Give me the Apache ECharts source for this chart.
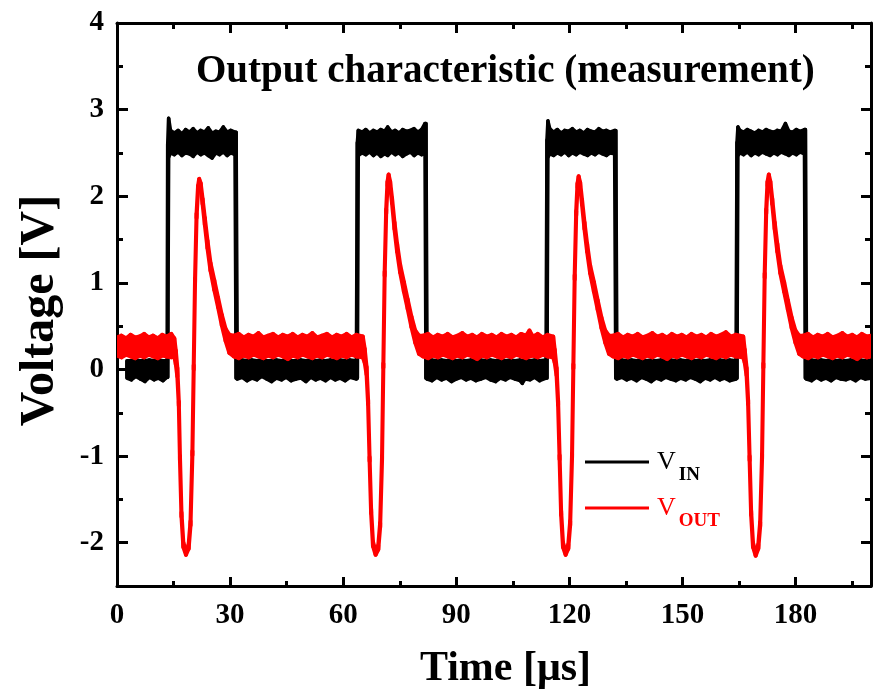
<!DOCTYPE html>
<html><head><meta charset="utf-8">
<script src="https://cdn.jsdelivr.net/npm/echarts@6/dist/echarts.min.js"></script>
<style>html,body{margin:0;padding:0;background:#fff}#c{width:873px;height:695px}</style>
</head><body><div id="c"></div><script>
// ---- axis ticks ----
const xMajorTicks = [0, 30, 60, 90, 120, 150, 180];
const xMinorTicks = [15, 45, 75, 105, 135, 165, 195];
const yMajorTicks = [-2, -1, 0, 1, 2, 3, 4];
const yMinorTicks = [-1.5, -0.5, 0.5, 1.5, 2.5, 3.5];

// ---- V_IN envelope: [time (us), low (V), high (V)] ----
const vinLow1 = [[2.6,-0.10,0.10],[3.8,-0.12,0.10],[5.0,-0.08,0.11],[6.2,-0.11,0.10],[7.4,-0.14,0.10],[8.6,-0.09,0.11],[9.8,-0.12,0.10],[11.0,-0.10,0.11],[12.2,-0.13,0.10],[13.3,-0.09,0.10]];
const vinHigh1 = [[13.45,-0.09,2.60],[13.7,2.45,2.90],[14.2,2.50,2.76],[15.2,2.48,2.73],[16.2,2.51,2.76],[17.2,2.47,2.72],[18.2,2.50,2.77],[19.2,2.49,2.74],[20.2,2.46,2.78],[21.2,2.51,2.73],[22.2,2.48,2.76],[23.2,2.50,2.74],[24.2,2.47,2.79],[25.2,2.44,2.73],[26.2,2.50,2.75],[27.2,2.48,2.74],[28.2,2.51,2.80],[29.2,2.47,2.74],[30.2,2.50,2.76],[31.3,2.48,2.74],[31.6,-0.10,2.74]];
const vinLow2 = [[31.9,-0.11,0.10],[33.2,-0.09,0.11],[34.5,-0.13,0.10],[35.8,-0.10,0.11],[37.1,-0.12,0.10],[38.4,-0.08,0.11],[39.7,-0.11,0.10],[41.0,-0.14,0.10],[42.3,-0.10,0.11],[43.6,-0.12,0.10],[44.9,-0.09,0.11],[46.2,-0.13,0.10],[47.5,-0.11,0.10],[48.8,-0.10,0.11],[50.1,-0.14,0.10],[51.4,-0.09,0.11],[52.7,-0.12,0.10],[54.0,-0.10,0.11],[55.3,-0.13,0.10],[56.6,-0.09,0.11],[57.9,-0.12,0.10],[59.2,-0.10,0.11],[60.5,-0.13,0.10],[61.8,-0.09,0.11],[63.5,-0.11,0.10]];
const vinHigh2 = [[63.75,-0.10,2.62],[64.0,2.47,2.76],[65.0,2.50,2.74],[66.0,2.48,2.77],[67.0,2.51,2.73],[68.0,2.47,2.76],[69.0,2.50,2.74],[70.0,2.46,2.77],[71.0,2.49,2.75],[71.8,2.47,2.80],[72.8,2.51,2.74],[73.8,2.48,2.76],[74.8,2.50,2.73],[75.8,2.46,2.77],[76.8,2.49,2.75],[77.8,2.51,2.76],[78.8,2.47,2.78],[79.8,2.50,2.74],[80.8,2.48,2.77],[81.7,2.49,2.84],[81.95,-0.10,2.84]];
const vinLow3 = [[82.25,-0.11,0.10],[83.5,-0.13,0.11],[84.8,-0.09,0.10],[86.1,-0.12,0.11],[87.4,-0.10,0.10],[88.7,-0.14,0.11],[90.0,-0.11,0.10],[91.3,-0.09,0.11],[92.6,-0.12,0.10],[93.9,-0.10,0.11],[95.2,-0.13,0.10],[96.5,-0.11,0.11],[97.8,-0.09,0.10],[99.1,-0.12,0.11],[100.4,-0.14,0.10],[101.7,-0.10,0.11],[103.0,-0.12,0.10],[104.3,-0.09,0.11],[105.6,-0.11,0.10],[106.9,-0.13,0.11],[107.5,-0.16,0.10],[108.2,-0.11,0.11],[109.5,-0.12,0.10],[110.8,-0.09,0.11],[112.1,-0.13,0.10],[113.8,-0.10,0.11]];
const vinHigh3 = [[114.05,-0.10,2.65],[114.3,2.45,2.87],[114.8,2.49,2.78],[115.8,2.47,2.74],[116.8,2.50,2.77],[117.8,2.48,2.73],[118.8,2.51,2.76],[119.8,2.47,2.75],[120.8,2.50,2.78],[121.8,2.48,2.74],[122.8,2.51,2.76],[123.8,2.49,2.73],[124.8,2.47,2.77],[125.8,2.50,2.75],[126.8,2.48,2.74],[127.8,2.51,2.78],[128.8,2.49,2.75],[129.8,2.47,2.76],[130.8,2.50,2.74],[132.0,2.49,2.76],[132.3,-0.10,2.76]];
const vinLow4 = [[132.6,-0.11,0.10],[133.9,-0.09,0.11],[135.2,-0.12,0.10],[136.5,-0.10,0.11],[137.8,-0.13,0.10],[139.1,-0.09,0.11],[140.4,-0.11,0.10],[141.7,-0.14,0.11],[143.0,-0.10,0.10],[144.3,-0.12,0.11],[145.6,-0.09,0.10],[146.9,-0.11,0.11],[148.2,-0.13,0.10],[149.5,-0.10,0.11],[150.8,-0.12,0.10],[152.1,-0.09,0.11],[153.4,-0.11,0.10],[154.7,-0.14,0.11],[156.0,-0.10,0.10],[157.3,-0.12,0.11],[158.6,-0.09,0.10],[159.9,-0.12,0.11],[161.2,-0.10,0.10],[162.5,-0.13,0.11],[164.2,-0.11,0.10]];
const vinHigh4 = [[164.45,-0.10,2.62],[164.7,2.47,2.80],[165.2,2.50,2.76],[166.2,2.48,2.74],[167.2,2.51,2.77],[168.2,2.47,2.75],[169.2,2.50,2.73],[170.2,2.48,2.76],[171.2,2.51,2.74],[172.2,2.49,2.77],[173.2,2.47,2.75],[174.2,2.50,2.74],[175.2,2.48,2.76],[176.2,2.51,2.75],[177.3,2.49,2.84],[178.2,2.47,2.75],[179.2,2.50,2.74],[180.2,2.48,2.77],[181.2,2.51,2.75],[182.35,2.49,2.77],[182.6,-0.10,2.77]];
const vinLow5 = [[182.9,-0.11,0.10],[184.2,-0.13,0.11],[185.5,-0.09,0.10],[186.8,-0.12,0.11],[188.1,-0.10,0.10],[189.4,-0.13,0.11],[190.7,-0.09,0.10],[192.0,-0.11,0.11],[193.3,-0.12,0.10],[194.6,-0.10,0.11],[195.9,-0.13,0.10],[197.2,-0.09,0.11],[198.5,-0.11,0.10],[200.0,-0.10,0.11]];

// ---- V_OUT envelope: [time (us), low (V), high (V)] ----
const voutLow1 = [[0,0.16,0.37],[1.2,0.14,0.39],[2.4,0.17,0.36],[3.6,0.15,0.40],[4.8,0.13,0.37],[6.0,0.16,0.38],[7.2,0.14,0.41],[8.4,0.17,0.37],[9.6,0.15,0.39],[10.8,0.13,0.36],[12.0,0.16,0.40],[13.2,0.15,0.38],[14.4,0.14,0.41],[15.2,0.15,0.36]];
const voutPulse1 = [[15.6,0.06,0.22],[16.0,-0.08,0.02],[16.4,-0.42,-0.37],[16.7,-1.05,-1.00],[17.1,-1.70,-1.65],[17.6,-2.05,-2.00],[18.3,-2.14,-2.10],[19.0,-2.07,-2.02],[19.5,-1.80,-1.75],[20.0,-0.99,-0.94],[20.35,0.00,0.05],[20.7,1.00,1.05],[21.1,1.75,1.80],[21.5,2.07,2.12],[21.8,2.16,2.20],[22.2,2.10,2.15],[22.7,1.91,1.97],[23.3,1.67,1.75],[24.0,1.40,1.49],[24.8,1.14,1.23],[25.8,0.92,1.03],[26.8,0.72,0.83],[27.8,0.51,0.63],[28.8,0.33,0.47],[29.8,0.19,0.40]];
const voutLow2 = [[31.0,0.15,0.39],[32.3,0.13,0.41],[33.6,0.16,0.37],[34.9,0.14,0.40],[36.2,0.17,0.38],[37.5,0.15,0.42],[38.8,0.13,0.37],[40.1,0.16,0.39],[41.4,0.14,0.41],[42.7,0.17,0.37],[44.0,0.15,0.40],[45.3,0.12,0.38],[46.6,0.16,0.41],[47.9,0.14,0.37],[49.2,0.17,0.40],[50.5,0.15,0.38],[51.8,0.13,0.42],[53.1,0.16,0.37],[54.4,0.14,0.39],[55.7,0.17,0.41],[57.0,0.15,0.37],[58.3,0.13,0.40],[59.6,0.16,0.38],[60.9,0.14,0.41],[62.2,0.17,0.37],[63.5,0.15,0.40],[65.2,0.14,0.38]];
const voutPulse2 = [[65.7,0.08,0.24],[66.2,-0.06,0.03],[66.6,-0.40,-0.35],[67.0,-1.06,-1.01],[67.4,-1.66,-1.61],[67.9,-2.04,-1.99],[68.6,-2.14,-2.10],[69.3,-2.08,-2.03],[69.8,-1.82,-1.77],[70.3,-1.05,-1.00],[70.65,0.02,0.07],[71.0,1.08,1.13],[71.4,1.80,1.85],[71.75,2.12,2.17],[72.05,2.21,2.25],[72.45,2.12,2.17],[72.95,1.92,1.98],[73.6,1.62,1.70],[74.3,1.36,1.45],[75.1,1.12,1.21],[76.1,0.90,1.01],[77.1,0.70,0.81],[78.1,0.49,0.61],[79.1,0.31,0.45],[80.1,0.18,0.39]];
const voutLow3 = [[81.2,0.15,0.39],[82.5,0.13,0.41],[83.8,0.16,0.37],[85.1,0.14,0.40],[86.4,0.17,0.38],[87.7,0.15,0.41],[89.0,0.13,0.37],[90.3,0.16,0.39],[91.6,0.14,0.42],[92.9,0.17,0.38],[94.2,0.15,0.40],[95.5,0.12,0.37],[96.8,0.16,0.41],[98.1,0.14,0.38],[99.4,0.17,0.40],[100.7,0.15,0.37],[102.0,0.13,0.41],[103.3,0.16,0.38],[104.6,0.14,0.40],[105.9,0.17,0.37],[107.2,0.15,0.41],[108.5,0.13,0.39],[109.4,0.15,0.45],[110.3,0.16,0.38],[111.6,0.14,0.41],[112.9,0.17,0.37],[114.2,0.15,0.40],[115.7,0.14,0.38]];
const voutPulse3 = [[116.1,0.08,0.23],[116.6,-0.07,0.02],[117.0,-0.41,-0.36],[117.4,-1.04,-0.99],[117.8,-1.68,-1.63],[118.3,-2.05,-2.00],[119.0,-2.14,-2.10],[119.7,-2.07,-2.02],[120.2,-1.80,-1.75],[120.7,-1.02,-0.97],[121.05,0.01,0.06],[121.4,1.04,1.09],[121.8,1.78,1.83],[122.15,2.10,2.15],[122.45,2.19,2.23],[122.85,2.11,2.16],[123.35,1.90,1.96],[124.0,1.62,1.70],[124.7,1.36,1.45],[125.5,1.11,1.20],[126.5,0.90,1.01],[127.5,0.69,0.80],[128.5,0.48,0.60],[129.5,0.31,0.45],[130.5,0.18,0.39]];
const voutLow4 = [[131.6,0.15,0.39],[132.9,0.13,0.41],[134.2,0.16,0.37],[135.5,0.14,0.40],[136.8,0.17,0.38],[138.1,0.15,0.41],[139.4,0.13,0.37],[140.7,0.16,0.39],[142.0,0.14,0.42],[143.3,0.17,0.38],[144.6,0.15,0.40],[145.9,0.12,0.37],[147.2,0.16,0.41],[148.5,0.14,0.38],[149.8,0.17,0.40],[151.1,0.15,0.37],[152.4,0.13,0.41],[153.7,0.16,0.38],[155.0,0.14,0.40],[156.3,0.17,0.37],[157.6,0.15,0.41],[158.9,0.13,0.38],[160.2,0.16,0.40],[161.5,0.14,0.43],[162.8,0.17,0.38],[164.1,0.15,0.40],[166.1,0.14,0.38]];
const voutPulse4 = [[166.5,0.08,0.23],[167.0,-0.07,0.02],[167.4,-0.40,-0.35],[167.8,-1.05,-1.00],[168.2,-1.68,-1.63],[168.7,-2.05,-2.00],[169.4,-2.15,-2.11],[170.1,-2.07,-2.02],[170.6,-1.81,-1.76],[171.1,-1.03,-0.98],[171.45,0.02,0.07],[171.8,1.06,1.11],[172.2,1.80,1.85],[172.55,2.12,2.17],[172.9,2.21,2.25],[173.3,2.12,2.17],[173.8,1.91,1.97],[174.45,1.62,1.70],[175.15,1.36,1.45],[175.95,1.11,1.20],[176.95,0.90,1.01],[177.95,0.69,0.80],[178.95,0.48,0.60],[179.95,0.31,0.45],[180.95,0.18,0.39]];
const voutLow5 = [[182.0,0.15,0.39],[183.3,0.13,0.41],[184.6,0.16,0.37],[185.9,0.14,0.40],[187.2,0.17,0.38],[188.5,0.15,0.41],[189.8,0.13,0.37],[191.1,0.16,0.39],[192.4,0.14,0.42],[193.7,0.17,0.38],[195.0,0.15,0.40],[196.3,0.12,0.37],[197.6,0.16,0.41],[198.9,0.14,0.38],[200.0,0.15,0.39]];

const vinTrace = [].concat(vinLow1, vinHigh1, vinLow2, vinHigh2, vinLow3, vinHigh3, vinLow4, vinHigh4, vinLow5);
const voutTrace = [].concat(voutLow1, voutPulse1, voutLow2, voutPulse2, voutLow3, voutPulse3, voutLow4, voutPulse4, voutLow5);

function toQuads(tr) {
  const out = [];
  for (let i = 0; i < tr.length - 1; i++) {
    out.push([tr[i][0], tr[i][1], tr[i][2], tr[i + 1][0], tr[i + 1][1], tr[i + 1][2]]);
  }
  return out;
}
function bandRenderer(color, width) {
  return function (params, api) {
    const a = api.coord([api.value(0), api.value(1)]);
    const b = api.coord([api.value(3), api.value(4)]);
    const c = api.coord([api.value(3), api.value(5)]);
    const d = api.coord([api.value(0), api.value(2)]);
    return {
      type: 'polygon',
      shape: { points: [a, b, c, d] },
      style: { fill: color, stroke: color, lineWidth: width, lineJoin: 'round' }
    };
  };
}

const F = 'Liberation Serif';
const chart = echarts.init(document.getElementById('c'), null, { renderer: 'canvas' });

function xAx(pos, ticks, len, labels, line) {
  return {
    type: 'value', position: pos, min: 0, max: 200,
    axisLine: { show: line, onZero: false, lineStyle: { color: '#000', width: 3 } },
    axisTick: { show: true, inside: true, length: len, customValues: ticks, lineStyle: { color: '#000', width: 3 } },
    axisLabel: labels ? { show: true, customValues: ticks, margin: 15, color: '#000', fontFamily: F, fontWeight: 'bold', fontSize: 29 } : { show: false },
    splitLine: { show: false }
  };
}
function yAx(pos, ticks, len, labels, line) {
  return {
    type: 'value', position: pos, min: -2.5, max: 4,
    axisLine: { show: line, onZero: false, lineStyle: { color: '#000', width: 3 } },
    axisTick: { show: true, inside: true, length: len, customValues: ticks, lineStyle: { color: '#000', width: 3 } },
    axisLabel: labels ? { show: true, customValues: ticks, margin: 13, color: '#000', fontFamily: F, fontWeight: 'bold', fontSize: 29 } : { show: false },
    splitLine: { show: false }
  };
}

const xMain = xAx('bottom', xMajorTicks, 9, true, true);
xMain.name = 'Time [\u03bcs]';
xMain.nameLocation = 'middle';
xMain.nameGap = 62;
xMain.nameTextStyle = { fontFamily: F, fontWeight: 'bold', fontSize: 42, color: '#000', padding: [0, 0, 0, 23] };
const yMain = yAx('left', yMajorTicks, 11, true, true);
yMain.name = 'Voltage [V]';
yMain.nameLocation = 'middle';
yMain.nameGap = 52;
yMain.nameTextStyle = { fontFamily: F, fontWeight: 'bold', fontSize: 48, color: '#000', padding: [0, 12, 0, 0] };

chart.setOption({
  animation: false,
  backgroundColor: '#fff',
  title: {
    text: 'Output characteristic (measurement)', left: 196, top: 52, padding: 0,
    textStyle: { fontFamily: F, fontWeight: 'bold', fontSize: 39, color: '#000' }
  },
  grid: { left: 117, right: 2, top: 23, bottom: 109, containLabel: false },
  xAxis: [
    xMain,
    xAx('bottom', xMinorTicks, 5, false, false),
    xAx('top', xMajorTicks, 10, false, true),
    xAx('top', xMinorTicks, 6, false, false)
  ],
  yAxis: [
    yMain,
    yAx('left', yMinorTicks, 6, false, false),
    yAx('right', yMajorTicks, 10, false, true),
    yAx('right', yMinorTicks, 6, false, false)
  ],
  legend: {
    orient: 'vertical', left: 585, top: 449, itemWidth: 64, itemHeight: 3, itemGap: 10,
    padding: 0,
    data: [{ name: 'VIN', icon: 'rect' }, { name: 'VOUT', icon: 'rect' }],
    formatter: function (name) { return name === 'VIN' ? '{vi|V}{si|IN}' : '{vo|V}{so|OUT}'; },
    textStyle: {
      rich: {
        vi: { fontFamily: F, fontSize: 26, color: '#000', verticalAlign: 'middle', lineHeight: 46, padding: [0, 0, 0, 3] },
        si: { fontFamily: F, fontSize: 19, fontWeight: 'bold', color: '#000', verticalAlign: 'bottom', lineHeight: 19, padding: [7, 0, 0, 3] },
        vo: { fontFamily: F, fontSize: 26, color: '#ff0000', verticalAlign: 'middle', lineHeight: 46, padding: [0, 0, 0, 3] },
        so: { fontFamily: F, fontSize: 19, fontWeight: 'bold', color: '#ff0000', verticalAlign: 'bottom', lineHeight: 19, padding: [7, 0, 0, 3] }
      }
    }
  },
  series: [
    {
      name: 'VIN', type: 'custom', xAxisIndex: 0, yAxisIndex: 0, clip: true, silent: true,
      itemStyle: { color: '#000000' },
      encode: { x: [0, 3], y: [1, 2, 4, 5] },
      renderItem: bandRenderer('#000000', 3.5),
      data: toQuads(vinTrace)
    },
    {
      name: 'VOUT', type: 'custom', xAxisIndex: 0, yAxisIndex: 0, clip: true, silent: true,
      itemStyle: { color: '#ff0000' },
      encode: { x: [0, 3], y: [1, 2, 4, 5] },
      renderItem: bandRenderer('#ff0000', 4),
      data: toQuads(voutTrace)
    }
  ]
});
</script></body></html>
